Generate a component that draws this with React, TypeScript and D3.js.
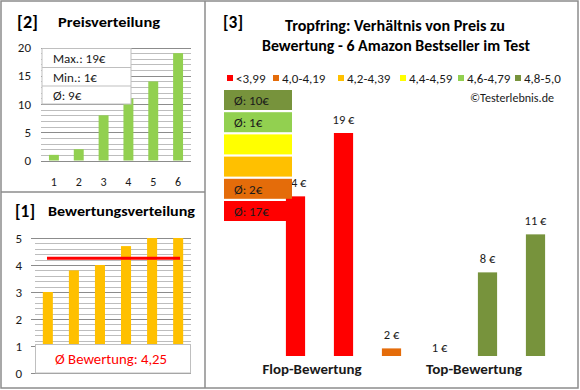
import React from "react";
import * as d3 from "d3";

// ---------- data ----------
const PRICE_CATS = ["1", "2", "3", "4", "5", "6"];
const PRICE_SORTED = [1, 2, 8, 11, 14, 19];
const PRICE_TICKS = [0, 5, 10, 15, 20];
const PRICE_STATS = ["Max.: 19€", "Min.: 1€", "Ø: 9€"];

const RATING_CATS = ["1", "2", "3", "4", "5", "6"];
const RATING_SORTED = [3.0, 3.8, 4.0, 4.7, 5.0, 5.0];
const RATING_TICKS = [0, 1, 2, 3, 4, 5];
const AVG_RATING = 4.25;
const AVG_RATING_LABEL = "Ø Bewertung: 4,25";

const PRODUCTS = ["p1", "p2", "p3", "p4", "p5", "p6"];
const PRODUCT_PRICES = [14, 19, 2, 1, 8, 11];
const PRODUCT_GROUP = [0, 0, 1, 4, 5, 5];
const PRODUCT_LABELS = ["14 €", "19 €", "2 €", "1 €", "8 €", "11 €"];
const PRICE_AXIS_MIN = 1.4;

const GROUP_LABELS = ["<3,99", "4,0-4,19", "4,2-4,39", "4,4-4,59", "4,6-4,79", "4,8-5,0"];
const GROUP_COLORS = ["#ff0000", "#e46c0a", "#ffc000", "#ffff00", "#92d050", "#77933c"];
const GROUP_AVG = ["Ø: 17€", "Ø: 2€", "", "", "Ø: 1€", "Ø: 10€"];

const FONT = "Carlito, Calibri, Lato, 'Open Sans', sans-serif";
const BORDER = "#8c8c8c";

function PricePanel() {
  const x = d3.scaleBand<string>().domain(PRICE_CATS).range([41.5, 190.5]).paddingInner(0.6).paddingOuter(0.3);
  const y = d3.scaleLinear().domain([0, 20]).range([160.5, 47.5]);
  const minor = d3.range(0, 21, 1);
  return (
    <g>
      <text x={17} y={28} fontSize={17} fontWeight="bold" textLength={21} lengthAdjust="spacingAndGlyphs">[2]</text>
      <text x={58} y={27} fontSize={14} fontWeight="bold" textLength={102} lengthAdjust="spacingAndGlyphs">Preisverteilung</text>
      {minor.map((v) => (
        <line key={"m" + v} x1={41} x2={191} y1={Math.round(y(v)) + 0.5} y2={Math.round(y(v)) + 0.5}
          stroke={v % 5 === 0 ? "#8c8c8c" : "#bdbdbd"} strokeWidth={1} />
      ))}
      {PRICE_TICKS.map((t) => (
        <text key={"t" + t} x={31} y={y(t) + 4.5} fontSize={13} textAnchor="end" fill="#1a1a1a">{t}</text>
      ))}
      {PRICE_SORTED.map((v, i) => (
        <rect key={"b" + i} x={x(PRICE_CATS[i])} width={x.bandwidth()} y={y(v)} height={y(0) - y(v)} fill="#92d050" />
      ))}
      {PRICE_CATS.map((c) => (
        <text key={"c" + c} x={(x(c) as number) + x.bandwidth() / 2} y={186} fontSize={12} textAnchor="middle" fill="#1a1a1a">{c}</text>
      ))}
      <rect x={42} y={48.5} width={89} height={55.5} fill="#fff" stroke="#bfbfbf" strokeWidth={1} />
      <line x1={42} x2={131} y1={67.5} y2={67.5} stroke="#bfbfbf" />
      <line x1={42} x2={131} y1={86} y2={86} stroke="#bfbfbf" />
      {PRICE_STATS.map((s, i) => (
        <text key={s} x={53} y={63 + i * 18.5} fontSize={13} fill="#1a1a1a">{s}</text>
      ))}
    </g>
  );
}

function RatingPanel() {
  const x = d3.scaleBand<string>().domain(RATING_CATS).range([35, 191]).paddingInner(0.615).paddingOuter(0.3);
  const y = d3.scaleLinear().domain([0, 5]).range([373, 238]);
  const minor = d3.range(0, 26).map((k) => k / 5);
  return (
    <g>
      <text x={15} y={217} fontSize={17} fontWeight="bold" textLength={20} lengthAdjust="spacingAndGlyphs">[1]</text>
      <text x={48} y={216} fontSize={14} fontWeight="bold" textLength={147} lengthAdjust="spacingAndGlyphs">Bewertungsverteilung</text>
      {minor.map((v, k) => (
        <line key={"m" + k} x1={k % 5 === 0 ? 31 : 35} x2={191} y1={Math.round(y(v)) + 0.5} y2={Math.round(y(v)) + 0.5}
          stroke={k % 5 === 0 ? "#8c8c8c" : "#bdbdbd"} strokeWidth={1} />
      ))}
      {RATING_TICKS.map((t) => (
        <text key={"t" + t} x={22} y={y(t) + 4.5} fontSize={13} textAnchor="end" fill="#1a1a1a">{t}</text>
      ))}
      {RATING_SORTED.map((v, i) => (
        <rect key={"b" + i} x={x(RATING_CATS[i])} width={x.bandwidth()} y={y(v)} height={y(0) - y(v)} fill="#ffc000" />
      ))}
      <line x1={47} x2={180} y1={y(AVG_RATING)} y2={y(AVG_RATING)} stroke="#ff0000" strokeWidth={3} />
      <rect x={35.5} y={344.5} width={155} height={28.5} fill="#fff" stroke="#bfbfbf" strokeWidth={1} />
      <text x={111} y={364} fontSize={15} fill="#ff0000" textAnchor="middle" textLength={112} lengthAdjust="spacingAndGlyphs">{AVG_RATING_LABEL}</text>
    </g>
  );
}

function RatioPanel() {
  const x = d3.scaleBand<string>().domain(PRODUCTS).range([271.5, 559.5]).paddingInner(0.6).paddingOuter(0.3);
  const y = d3.scaleLinear().domain([PRICE_AXIS_MIN, 19]).range([356, 133]);
  const base = y(PRICE_AXIS_MIN);
  const legendX = [227, 273, 338, 400, 458, 515];
  const boxOrder = [5, 4, 3, 2, 1, 0];
  return (
    <g>
      <text x={223} y={28} fontSize={17} fontWeight="bold" textLength={20} lengthAdjust="spacingAndGlyphs">[3]</text>
      <text x={395} y={31} fontSize={15} fontWeight="bold" textAnchor="middle" textLength={220} lengthAdjust="spacingAndGlyphs">Tropfring: Verhältnis von Preis zu</text>
      <text x={396} y={51} fontSize={15} fontWeight="bold" textAnchor="middle" textLength={268} lengthAdjust="spacingAndGlyphs">Bewertung - 6 Amazon Bestseller im Test</text>
      {GROUP_LABELS.map((l, i) => (
        <g key={l}>
          <rect x={legendX[i]} y={75} width={6} height={6} fill={GROUP_COLORS[i]} />
          <text x={legendX[i] + 9} y={82.5} fontSize={13} fill="#1a1a1a">{l}</text>
        </g>
      ))}
      <text x={554} y={102} fontSize={13} textAnchor="end" fill="#1a1a1a" textLength={84} lengthAdjust="spacingAndGlyphs">©Testerlebnis.de</text>
      {PRODUCT_PRICES.map((v, i) => {
        const top = Math.min(y(v), base);
        return (
          <g key={PRODUCTS[i]}>
            <rect x={x(PRODUCTS[i])} width={x.bandwidth()} y={top} height={base - top} fill={GROUP_COLORS[PRODUCT_GROUP[i]]} />
            <text x={(x(PRODUCTS[i]) as number) + x.bandwidth() / 2} y={y(v) - 9} fontSize={12.5} textAnchor="middle" fill="#1a1a1a">{PRODUCT_LABELS[i]}</text>
          </g>
        );
      })}
      {boxOrder.map((g, k) => (
        <g key={"box" + g}>
          <rect x={224} y={90 + k * 22.2} width={68} height={20} fill={GROUP_COLORS[g]} />
          {GROUP_AVG[g] && (
            <text x={234} y={90 + k * 22.2 + 15} fontSize={13} fill="#1a1a1a">{GROUP_AVG[g]}</text>
          )}
        </g>
      ))}
      <text x={312} y={374} fontSize={14.5} fontWeight="bold" textAnchor="middle" fill="#1a1a1a" textLength={99} lengthAdjust="spacingAndGlyphs">Flop-Bewertung</text>
      <text x={474} y={374} fontSize={14.5} fontWeight="bold" textAnchor="middle" fill="#1a1a1a" textLength={96} lengthAdjust="spacingAndGlyphs">Top-Bewertung</text>
    </g>
  );
}

export default function App() {
  return (
    <svg width={580} height={390} style={{ position: "absolute", left: 0, top: 0, background: "#fff" }} fontFamily={FONT}>
      <rect x={0} y={0} width={580} height={390} fill="#fff" />
      <PricePanel />
      <RatingPanel />
      <RatioPanel />
      <rect x={1} y={1} width={577} height={387} fill="none" stroke={BORDER} strokeWidth={1.5} />
      <line x1={205} x2={205} y1={1} y2={388} stroke={BORDER} strokeWidth={1.5} />
      <line x1={1} x2={205} y1={192} y2={192} stroke={BORDER} strokeWidth={1.5} />
    </svg>
  );
}
